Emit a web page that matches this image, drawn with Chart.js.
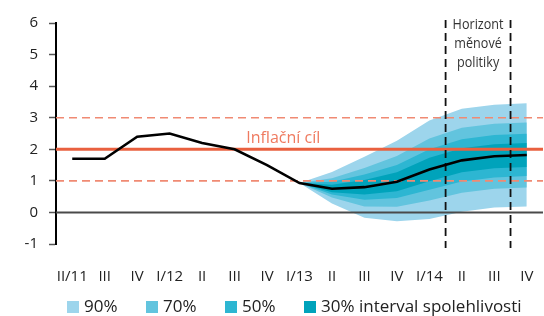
<!DOCTYPE html>
<html>
<head>
<meta charset="utf-8">
<script src="https://cdn.jsdelivr.net/npm/chart.js@4.4.0/dist/chart.umd.min.js"></script>
<style>
  body { margin: 0; background: #fff; }
  #wrap { position: relative; width: 544px; height: 316px; }
  #legend { position: absolute; left: 67px; top: 296px; display: flex; font: 17px 'Open Sans', sans-serif; color: #222; line-height: 20px; }
  .item { display: flex; align-items: center; }
  .box { width: 12px; height: 12px; margin-right: 5px; margin-top: 2px; }
</style>
</head>
<body>
<div id="wrap">
  <canvas id="chart" width="544" height="316"></canvas>
  <div id="legend"></div>
</div>
<script>
// Quarters on the x axis
const quarters = ['II/11', 'III', 'IV', 'I/12', 'II', 'III', 'IV', 'I/13', 'II', 'III', 'IV', 'I/14', 'II', 'III', 'IV'];

// Inflation (history + forecast), %
const inflation = [1.70, 1.70, 2.40, 2.50, 2.20, 2.00, 1.50, 0.93, 0.75, 0.80, 0.97, 1.36, 1.65, 1.78, 1.82];

// Confidence bands of the forecast
const band90Upper = [null, null, null, null, null, null, null, 0.93, 1.28, 1.76, 2.27, 2.91, 3.28, 3.41, 3.46];
const band90Lower = [null, null, null, null, null, null, null, 0.93, 0.28, -0.17, -0.28, -0.21, 0.02, 0.16, 0.19];
const band70Upper = [null, null, null, null, null, null, null, 0.93, 1.08, 1.41, 1.79, 2.34, 2.68, 2.81, 2.85];
const band70Lower = [null, null, null, null, null, null, null, 0.93, 0.47, 0.19, 0.18, 0.38, 0.62, 0.75, 0.79];
const band50Upper = [null, null, null, null, null, null, null, 0.93, 0.97, 1.20, 1.50, 2.00, 2.32, 2.45, 2.49];
const band50Lower = [null, null, null, null, null, null, null, 0.93, 0.57, 0.40, 0.46, 0.72, 0.98, 1.11, 1.15];
const band30Upper = [null, null, null, null, null, null, null, 0.93, 0.88, 1.03, 1.27, 1.73, 2.03, 2.16, 2.20];
const band30Lower = [null, null, null, null, null, null, null, 0.93, 0.64, 0.57, 0.67, 0.99, 1.27, 1.40, 1.44];

// Inflation target and its tolerance band
const target = 2;
const toleranceBand = [1, 3];
// Monetary policy horizon borders (between categories)
const horizonBorders = [11.5, 13.5];

const legendLabels = ['90%', '70%', '50%', '30% interval spolehlivosti'];
const bandColors = ['#9dd5ec', '#62c4de', '#2db6d2', '#00a3bb'];

const FONT = "'Open Sans', sans-serif";

function band(data, color, fill, order) {
  return {
    data: data,
    borderWidth: 0,
    pointRadius: 0,
    backgroundColor: color,
    fill: fill,
    order: order,
    tension: 0,
  };
}

// Reference lines and annotations, drawn just before the inflation line
const overlay = {
  id: 'overlay',
  beforeDatasetDraw(chart, args) {
    if (args.index !== 0) return;
    const ctx = chart.ctx;
    const area = chart.chartArea;
    const x = chart.scales.x;
    const y = chart.scales.y;
    ctx.save();

    // zero line
    ctx.strokeStyle = '#4a4a4a';
    ctx.lineWidth = 2;
    ctx.beginPath();
    ctx.moveTo(area.left, y.getPixelForValue(0));
    ctx.lineTo(area.right, y.getPixelForValue(0));
    ctx.stroke();

    // tolerance band
    ctx.strokeStyle = '#f08a73';
    ctx.lineWidth = 1.6;
    ctx.setLineDash([8, 5]);
    toleranceBand.forEach((v) => {
      ctx.beginPath();
      ctx.moveTo(area.left, y.getPixelForValue(v));
      ctx.lineTo(area.right, y.getPixelForValue(v));
      ctx.stroke();
    });

    // target
    ctx.setLineDash([]);
    ctx.strokeStyle = '#e9603f';
    ctx.lineWidth = 3;
    ctx.beginPath();
    ctx.moveTo(area.left, y.getPixelForValue(target));
    ctx.lineTo(area.right, y.getPixelForValue(target));
    ctx.stroke();

    ctx.fillStyle = '#ef7a5f';
    ctx.font = '16px ' + FONT;
    ctx.textAlign = 'center';
    ctx.textBaseline = 'alphabetic';
    ctx.fillText('Inflační cíl', x.getPixelForValue(6.5), y.getPixelForValue(target) - 6);

    // policy horizon
    ctx.strokeStyle = '#111';
    ctx.lineWidth = 1.8;
    ctx.setLineDash([8, 5]);
    horizonBorders.forEach((v) => {
      const px = x.getPixelForValue(v);
      ctx.beginPath();
      ctx.moveTo(px, area.top - 3);
      ctx.lineTo(px, area.bottom + 4);
      ctx.stroke();
    });
    ctx.setLineDash([]);

    const cx = x.getPixelForValue((horizonBorders[0] + horizonBorders[1]) / 2);
    ctx.fillStyle = '#333';
    ctx.font = '15px ' + FONT;
    ctx.textBaseline = 'middle';
    ['Horizont', 'měnové', 'politiky'].forEach((t, i) => {
      ctx.save();
      ctx.translate(cx, area.top + 2 + i * 19);
      ctx.scale(0.84, 1);
      ctx.fillText(t, 0, 0);
      ctx.restore();
    });
    ctx.restore();
  },
};

new Chart(document.getElementById('chart'), {
  type: 'line',
  data: {
    labels: quarters,
    datasets: [
      {
        data: inflation,
        borderColor: '#000',
        borderWidth: 2.6,
        pointRadius: 0,
        fill: false,
        order: 0,
        tension: 0,
      },
      band(band30Upper, bandColors[3], '+1', 1),
      band(band30Lower, bandColors[3], false, 1),
      band(band50Upper, bandColors[2], '+1', 2),
      band(band50Lower, bandColors[2], false, 2),
      band(band70Upper, bandColors[1], '+1', 3),
      band(band70Lower, bandColors[1], false, 3),
      band(band90Upper, bandColors[0], '+1', 4),
      band(band90Lower, bandColors[0], false, 4),
    ],
  },
  options: {
    responsive: false,
    animation: false,
    layout: { padding: { top: 23, right: 1, bottom: 32, left: 0 } },
    plugins: {
      legend: { display: false },
      tooltip: { enabled: false },
    },
    scales: {
      x: {
        offset: true,
        grid: { display: false },
        border: { display: false },
        ticks: { color: '#222', font: { family: FONT, size: 15 }, padding: 16, maxRotation: 0, autoSkip: false },
        afterFit: (s) => {
          s.height = 40;
          s.paddingLeft = 0;
          s.paddingRight = 0;
        },
      },
      y: {
        min: -1,
        max: 6,
        ticks: { stepSize: 1, color: '#222', font: { family: FONT, size: 15 }, padding: 11 },
        grid: { drawOnChartArea: false, drawTicks: true, tickLength: 7, tickColor: '#555', tickWidth: 1.5 },
        border: { display: true, color: '#000', width: 2 },
        afterFit: (s) => { s.width = 56; },
      },
    },
  },
  plugins: [overlay],
});

// Legend
const legend = document.getElementById('legend');
legendLabels.forEach((label, i) => {
  const item = document.createElement('div');
  item.className = 'item';
  if (i < legendLabels.length - 1) item.style.width = '79px';
  const box = document.createElement('span');
  box.className = 'box';
  box.style.background = bandColors[i];
  const text = document.createElement('span');
  text.textContent = label;
  item.appendChild(box);
  item.appendChild(text);
  legend.appendChild(item);
});
</script>
</body>
</html>
